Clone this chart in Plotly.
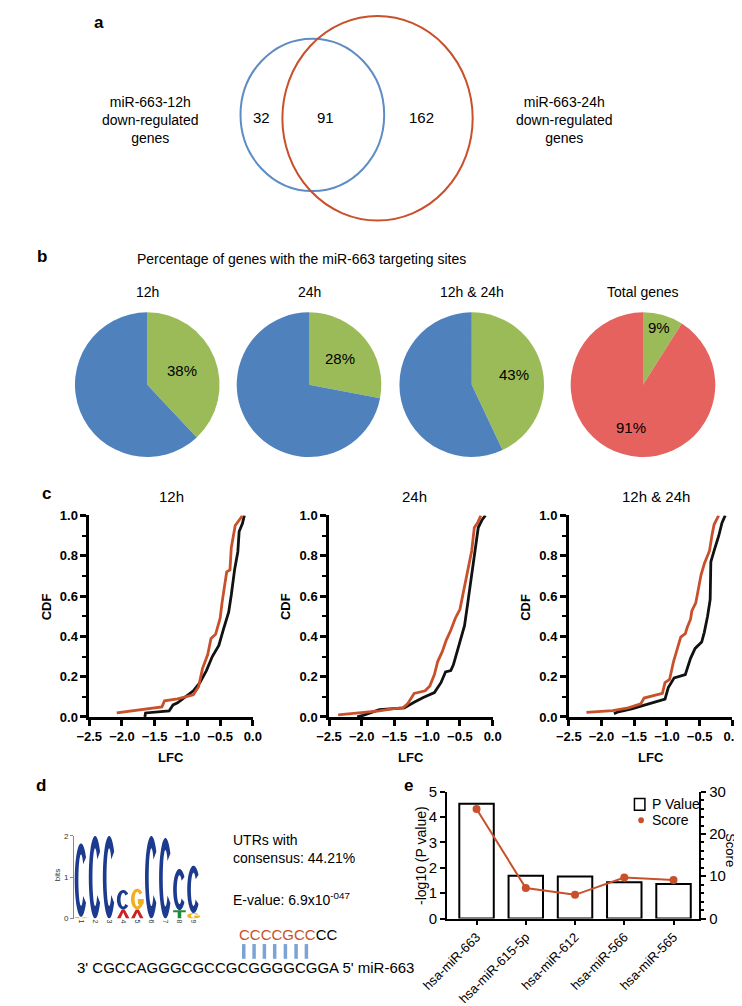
import math
import plotly.graph_objects as go

W, H = 742, 1006
FONT = "Liberation Sans, Arial, sans-serif"
RED = "#c8502a"
BLUE_C = "#5e8cc4"

# ---------------- Panel a : Venn ----------------
venn_left_label = "miR-663-12h<br>down-regulated<br>genes"
venn_right_label = "miR-663-24h<br>down-regulated<br>genes"
venn_counts = [32, 91, 162]          # 12h only, both, 24h only

# ---------------- Panel b : pies ----------------
pie_titles = ["12h", "24h", "12h & 24h", "Total genes"]
pie_with_sites = [38, 28, 43, 9]
pie_without_sites = [62, 72, 57, 91]

# ---------------- Panel c : CDFs ----------------
cdf_titles = ["12h", "24h", "12h & 24h"]
cdf12_red_lfc = [-2.08, -1.39, -1.35, -1.15, -0.91, -0.83, -0.77, -0.69, -0.64, -0.57, -0.50, -0.47, -0.40, -0.35, -0.33, -0.27, -0.18, -0.16]
cdf12_red_cdf = [0.02, 0.05, 0.08, 0.09, 0.11, 0.15, 0.24, 0.31, 0.39, 0.41, 0.49, 0.57, 0.72, 0.73, 0.84, 0.95, 0.99, 1.0]
cdf12_blk_lfc = [-1.65, -1.64, -1.28, -1.22, -1.15, -1.00, -0.91, -0.81, -0.71, -0.62, -0.52, -0.45, -0.37, -0.33, -0.28, -0.23, -0.21, -0.16, -0.13]
cdf12_blk_cdf = [0.0, 0.02, 0.03, 0.06, 0.07, 0.105, 0.13, 0.17, 0.23, 0.30, 0.355, 0.435, 0.52, 0.605, 0.73, 0.82, 0.92, 0.96, 1.0]
cdf24_red_lfc = [-2.36, -2.03, -1.73, -1.54, -1.37, -1.30, -1.20, -1.03, -0.96, -0.89, -0.84, -0.77, -0.71, -0.64, -0.57, -0.50, -0.45, -0.38, -0.32, -0.28, -0.23, -0.18]
cdf24_red_cdf = [0.01, 0.02, 0.03, 0.04, 0.045, 0.065, 0.117, 0.13, 0.154, 0.21, 0.275, 0.324, 0.38, 0.43, 0.49, 0.534, 0.615, 0.71, 0.825, 0.94, 0.963, 1.0]
cdf24_blk_lfc = [-2.07, -1.98, -1.73, -1.35, -1.20, -1.06, -0.89, -0.79, -0.72, -0.64, -0.60, -0.55, -0.48, -0.43, -0.38, -0.32, -0.26, -0.22, -0.16, -0.11]
cdf24_blk_cdf = [0.0, 0.008, 0.036, 0.045, 0.073, 0.097, 0.121, 0.17, 0.223, 0.23, 0.259, 0.316, 0.388, 0.453, 0.566, 0.712, 0.84, 0.94, 0.979, 1.0]
cdfboth_red_lfc = [-2.23, -1.83, -1.59, -1.40, -1.35, -1.20, -1.07, -1.03, -0.96, -0.90, -0.84, -0.79, -0.72, -0.69, -0.64, -0.62, -0.56, -0.52, -0.48, -0.43, -0.35, -0.31, -0.28, -0.21]
cdfboth_red_cdf = [0.023, 0.032, 0.045, 0.065, 0.094, 0.105, 0.117, 0.17, 0.186, 0.275, 0.34, 0.396, 0.413, 0.445, 0.485, 0.526, 0.566, 0.631, 0.704, 0.76, 0.825, 0.906, 0.955, 1.0]
cdfboth_blk_lfc = [-1.81, -1.76, -1.54, -1.35, -1.20, -1.03, -0.98, -0.89, -0.72, -0.64, -0.57, -0.47, -0.43, -0.38, -0.34, -0.33, -0.28, -0.21, -0.16, -0.11]
cdfboth_blk_cdf = [0.016, 0.024, 0.04, 0.057, 0.073, 0.089, 0.146, 0.194, 0.21, 0.291, 0.34, 0.372, 0.42, 0.50, 0.583, 0.769, 0.825, 0.898, 0.963, 1.0]

# ---------------- Panel d : motif logo ----------------
logo_pos = [1, 1, 2, 3, 4, 4, 5, 5, 6, 7, 8, 8, 9, 9]
logo_letter = ["G", "C", "C", "C", "A", "C", "A", "G", "C", "C", "T", "C", "G", "C"]
logo_bits = [0.04, 1.78, 2.0, 2.0, 0.22, 0.47, 0.22, 0.50, 2.0, 1.95, 0.20, 1.00, 0.13, 1.15]
motif_info = ["UTRs with", "consensus: 44.21%"]
evalue_text = "E-value: 6.9x10<sup>-047</sup>"
target_paired = "CCCCGCC"
target_unpaired = "CC"
mirna_seq = "3' CGCCAGGGCGCCGCGGGGCGGA 5' miR-663"

# ---------------- Panel e : bar + line ----------------
mirnas = ["hsa-miR-663", "hsa-miR-615-5p", "hsa-miR-612", "hsa-miR-566", "hsa-miR-565"]
neg_log_p = [4.52, 1.69, 1.66, 1.43, 1.36]
scores = [25.9, 7.2, 5.6, 9.7, 9.1]
series_names = ["P Value", "Score"]


def px(x):
    return x / W


def py(y):
    return 1 - y / H


def ann(x, y, text, size=14, bold=False, xanchor="center", yanchor="middle", angle=0, color="black", align="center"):
    return dict(x=px(x), y=py(y), xref="paper", yref="paper", text=text, showarrow=False,
                font=dict(family=FONT, size=size, color=color, weight="bold" if bold else "normal"),
                xanchor=xanchor, yanchor=yanchor, textangle=angle, align=align)


fig = go.Figure()
annotations = []
shapes = []

# ---- panel a
shapes.append(dict(type="circle", xref="paper", yref="paper", x0=px(216), x1=px(367), y0=py(177), y1=py(22),
                   line=dict(color=BLUE_C, width=2)))
shapes.append(dict(type="circle", xref="paper", yref="paper", x0=px(260), x1=px(460), y0=py(207), y1=py(-1),
                   line=dict(color=RED, width=2)))
annotations.append(ann(67, 6, "a", size=17, bold=True))
annotations.append(ann(121, 105, venn_left_label, size=14))
annotations.append(ann(557, 105, venn_right_label, size=14))
for xc, n in zip([238, 305, 406], venn_counts):
    annotations.append(ann(xc, 102, str(n), size=15))

# ---- panel b
annotations.append(ann(7, 244, "b", size=17, bold=True))
annotations.append(ann(105, 246, "Percentage of genes with the miR-663 targeting sites", size=14, xanchor="left"))
pie_cx = [118, 288, 459, 639]
pie_cy, pie_r = 374, 76
pie_other_colors = ["#4f81bd", "#4f81bd", "#4f81bd", "#e5625f"]
label_rad = [0.52, 0.55, 0.6, 0.8]
for i in range(4):
    cx = pie_cx[i]
    fig.add_trace(go.Pie(values=[pie_with_sites[i], pie_without_sites[i]],
                         labels=["with sites", "without sites"],
                         marker=dict(colors=["#9bbb59", pie_other_colors[i]]),
                         sort=False, direction="clockwise", rotation=0,
                         textinfo="none", hoverinfo="skip", showlegend=False,
                         domain=dict(x=[px(cx - pie_r), px(cx + pie_r)], y=[py(pie_cy + pie_r), py(pie_cy - pie_r)])))
    annotations.append(ann(cx, 280, pie_titles[i], size=14))
    tot = pie_with_sites[i] + pie_without_sites[i]
    mid = math.radians(pie_with_sites[i] / tot * 360 / 2)
    f = label_rad[i]
    annotations.append(ann(cx + pie_r * f * math.sin(mid), pie_cy - pie_r * f * math.cos(mid),
                           f"{pie_with_sites[i]}%", size=15))
    if i == 3:
        mid2 = math.radians((pie_with_sites[i] + pie_without_sites[i] / 2) / tot * 360)
        annotations.append(ann(cx + pie_r * 0.6 * math.sin(mid2), pie_cy - pie_r * 0.6 * math.cos(mid2),
                               f"{pie_without_sites[i]}%", size=15))

# ---- panel c
annotations.append(ann(12, 485, "c", size=17, bold=True))
cdf_x_px = [(57, 229), (309, 481), (561, 733)]
cdf_sets = [(cdf12_red_lfc, cdf12_red_cdf, cdf12_blk_lfc, cdf12_blk_cdf),
            (cdf24_red_lfc, cdf24_red_cdf, cdf24_blk_lfc, cdf24_blk_cdf),
            (cdfboth_red_lfc, cdfboth_red_cdf, cdfboth_blk_lfc, cdfboth_blk_cdf)]
title_x = [143, 399, 653]
tickfont_b = dict(family=FONT, size=13, weight="bold", color="black")
layout_axes = {}
for k in range(3):
    xs = "" if k == 0 else str(k + 1)
    rl, rc, bl, bc = cdf_sets[k]
    fig.add_trace(go.Scatter(x=bl, y=bc, mode="lines", line=dict(color="#111111", width=2.8),
                             xaxis="x" + xs, yaxis="y" + xs, showlegend=False, hoverinfo="skip"))
    fig.add_trace(go.Scatter(x=rl, y=rc, mode="lines", line=dict(color=RED, width=2.8),
                             xaxis="x" + xs, yaxis="y" + xs, showlegend=False, hoverinfo="skip"))
    x0, x1 = cdf_x_px[k]
    layout_axes["xaxis" + xs] = dict(domain=[px(x0), px(x1)], anchor="y" + xs, range=[-2.5, 0], dtick=0.5, tick0=0,
                                     tickformat=".1f", showline=True, linecolor="black", linewidth=2.5,
                                     ticks="outside", ticklen=6, tickwidth=2.5, tickcolor="black",
                                     showgrid=False, zeroline=False, tickfont=tickfont_b)
    layout_axes["yaxis" + xs] = dict(domain=[py(712), py(507)], anchor="x" + xs, range=[0, 1], dtick=0.2, tick0=0,
                                     tickformat=".1f", showline=True, linecolor="black", linewidth=2.5,
                                     ticks="outside", ticklen=6, tickwidth=2.5, tickcolor="black",
                                     showgrid=False, zeroline=False, tickfont=tickfont_b,
                                     minor=dict(dtick=0.1, ticks="outside", ticklen=4, tickwidth=2, tickcolor="black",
                                                showgrid=False))
    annotations.append(ann(title_x[k], 488, cdf_titles[k], size=15))
    annotations.append(ann(x0 - 45, 600, "CDF", size=13, bold=True, angle=-90))
    annotations.append(ann((x0 + x1) / 2, 753, "LFC", size=13, bold=True))

# ---- panel d : logo
annotations.append(ann(6, 782, "d", size=17, bold=True))
letter_colors = {"A": "#cc2222", "C": "#1c3b8e", "G": "#f2b01e", "T": "#1f8a3a"}


def ell(cx, cy, rx, ry, a0, a1, n=36):
    pts = []
    for i in range(n + 1):
        a = math.radians(a0 + (a1 - a0) * i / n)
        pts.append((cx + rx * math.cos(a), cy + ry * math.sin(a)))
    return pts


def to_path(pts):
    return "M " + " L ".join(f"{x:.4f},{y:.4f}" for x, y in pts) + " Z"


def letter_path(ch, x0, x1, y0, y1):
    cx, cy = (x0 + x1) / 2, (y0 + y1) / 2
    rx, ry = (x1 - x0) / 2, (y1 - y0) / 2
    w, h = x1 - x0, y1 - y0
    if ch == "C":
        return [to_path(ell(cx, cy, rx, ry, 38, 322) + ell(cx, cy, rx * 0.42, ry * 0.70, 322, 38))]
    if ch == "G":
        return [to_path(ell(cx, cy, rx, ry, 38, 360) + ell(cx, cy, rx * 0.42, ry * 0.70, 360, 38)),
                to_path([(cx + 0.05 * w, cy), (x1, cy), (x1, cy - 0.25 * h), (cx + 0.05 * w, cy - 0.25 * h)])]
    if ch == "A":
        return [to_path([(x0, y0), (cx - 0.12 * w, y1), (cx + 0.12 * w, y1), (x1, y0), (x1 - 0.28 * w, y0),
                         (cx, y0 + 0.65 * h), (x0 + 0.28 * w, y0)])]
    # T
    return [to_path([(x0, y1), (x1, y1), (x1, y1 - 0.25 * h), (cx + 0.14 * w, y1 - 0.25 * h), (cx + 0.14 * w, y0),
                     (cx - 0.14 * w, y0), (cx - 0.14 * w, y1 - 0.25 * h), (x0, y1 - 0.25 * h)])]


stack = {}
for p, ch, b in zip(logo_pos, logo_letter, logo_bits):
    base = stack.get(p, 0.0)
    for pth in letter_path(ch, p - 0.45, p + 0.45, base, base + b):
        shapes.append(dict(type="path", xref="x4", yref="y4", path=pth,
                           fillcolor=letter_colors[ch], line=dict(width=0), layer="above"))
    stack[p] = base + b

fig.add_trace(go.Scatter(x=[], y=[], xaxis="x4", yaxis="y4", showlegend=False))
layout_axes["xaxis4"] = dict(domain=[px(41), px(174)], anchor="y4", range=[0.5, 9.5], tickvals=list(range(1, 10)),
                             tickangle=90, tickfont=dict(family=FONT, size=7, color="#333"), showline=False,
                             showgrid=False, zeroline=False, ticks="")
layout_axes["yaxis4"] = dict(domain=[py(917), py(833)], anchor="x4", range=[0, 2], tickvals=[0, 1, 2],
                             tickfont=dict(family=FONT, size=8, color="#333"), showline=True, linecolor="#888",
                             linewidth=1, ticks="outside", ticklen=3, tickcolor="#888", showgrid=False,
                             zeroline=False)
annotations.append(ann(23, 873, "bits", size=8, angle=-90, color="#333"))
annotations.append(ann(206, 846, "<br>".join(motif_info), size=14, xanchor="left", align="left"))
annotations.append(ann(206, 897, evalue_text, size=14, xanchor="left"))
annotations.append(ann(212, 933, f"<span style='color:{RED}'>{target_paired}</span>{target_unpaired}",
                       size=15, xanchor="left"))
annotations.append(ann(42, 967, mirna_seq, size=15, xanchor="left"))
char_w = {"C": 0.722 * 15, "G": 0.778 * 15}
xcur = 214
for ch in target_paired:
    xm = xcur + char_w[ch] / 2
    shapes.append(dict(type="line", xref="paper", yref="paper", x0=px(xm), x1=px(xm), y0=py(958), y1=py(943),
                       line=dict(color="#7ba3d6", width=3.5)))
    xcur += char_w[ch]

# ---- panel e
annotations.append(ann(393, 782, "e", size=17, bold=True))
fig.add_trace(go.Bar(x=mirnas, y=neg_log_p, name=series_names[0], xaxis="x5", yaxis="y5", width=0.7,
                     marker=dict(color="white", line=dict(color="black", width=2)), showlegend=False,
                     hoverinfo="skip"))
fig.add_trace(go.Scatter(x=mirnas, y=scores, name=series_names[1], xaxis="x5", yaxis="y6", mode="lines+markers",
                         line=dict(color=RED, width=2), marker=dict(color=RED, size=8), showlegend=False,
                         hoverinfo="skip"))
tf15 = dict(family=FONT, size=15, color="black")
layout_axes["xaxis5"] = dict(domain=[px(433), px(698)], anchor="y5", type="category", range=[-0.6, 4.52],
                             showline=True, linecolor="black", linewidth=2, ticks="outside", ticklen=4,
                             tickwidth=2, tickcolor="black", tickangle=-45,
                             tickfont=dict(family=FONT, size=13, color="black"), showgrid=False, zeroline=False)
layout_axes["yaxis5"] = dict(domain=[py(917), py(788)], anchor="x5", range=[0, 5], dtick=1, showline=True,
                             linecolor="black", linewidth=2, ticks="outside", ticklen=5, tickwidth=2,
                             tickcolor="black", tickfont=tf15, showgrid=False, zeroline=False)
layout_axes["yaxis6"] = dict(overlaying="y5", side="right", anchor="x5", range=[0, 30], dtick=10, showline=True,
                             linecolor="black", linewidth=2, ticks="outside", ticklen=5, tickwidth=2,
                             tickcolor="black", tickfont=tf15, showgrid=False, zeroline=False,
                             minor=dict(dtick=2, ticks="outside", ticklen=3, tickwidth=1.5, tickcolor="black"))
annotations.append(ann(405, 853, "-log10 (P value)", size=14, angle=-90))
annotations.append(ann(731, 847, series_names[1], size=13, angle=90))
# legend
shapes.append(dict(type="rect", xref="paper", yref="paper", x0=px(630), x1=px(641), y0=py(807), y1=py(795),
                   line=dict(color="black", width=1.5), fillcolor="white"))
shapes.append(dict(type="circle", xref="paper", yref="paper", x0=px(634), x1=px(640), y0=py(820), y1=py(814),
                   line=dict(width=0), fillcolor=RED))
annotations.append(ann(646, 801, series_names[0], size=14, xanchor="left"))
annotations.append(ann(646, 817, series_names[1], size=14, xanchor="left"))

fig.update_layout(width=W, height=H, autosize=False, margin=dict(l=0, r=0, t=0, b=0),
                  paper_bgcolor="white", plot_bgcolor="rgba(0,0,0,0)", showlegend=False,
                  font=dict(family=FONT, color="black"), annotations=annotations, shapes=shapes,
                  **layout_axes)
fig.write_html("out.html")
